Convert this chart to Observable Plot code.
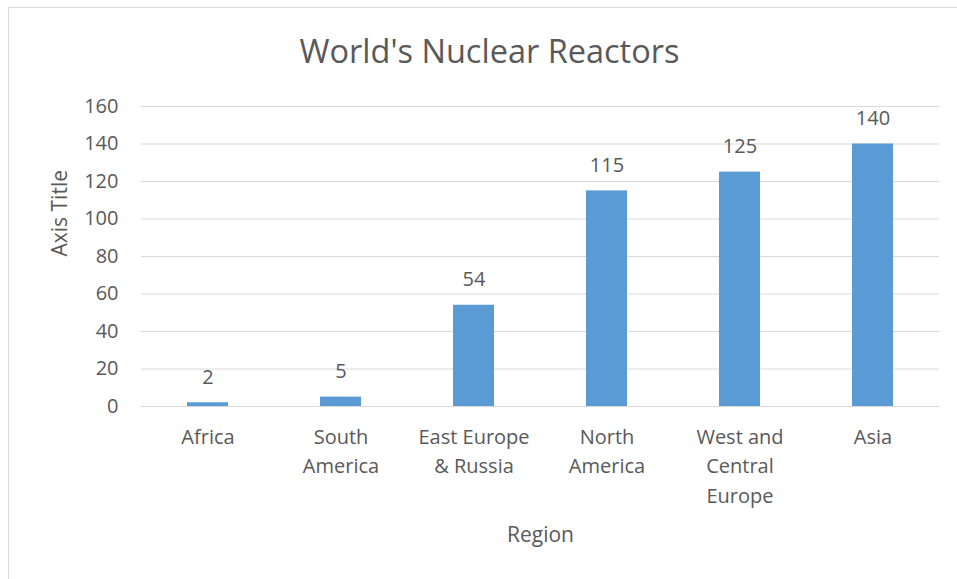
<!DOCTYPE html>
<html>
<head>
<meta charset="utf-8">
<script src="https://cdn.jsdelivr.net/npm/d3@7"></script>
<script src="https://cdn.jsdelivr.net/npm/@observablehq/plot@0.6"></script>
<style>
  body { margin: 0; background: #fff; font-family: "Open Sans", sans-serif; }
  #frame { position: absolute; left: 8px; top: 7px; width: 970px; height: 600px; border: 1px solid #d9d9d9; box-sizing: border-box; }
  #chart { position: absolute; left: 0; top: 0; }
</style>
</head>
<body>
<div id="frame"></div>
<div id="chart"></div>
<script>
const categories = ["Africa", "South America", "East Europe & Russia", "North America", "West and Central Europe", "Asia"];
const tickLabels = ["Africa", "South\nAmerica", "East Europe\n& Russia", "North\nAmerica", "West and\nCentral\nEurope", "Asia"];
const reactors = [2, 5, 54, 115, 125, 140];
const yTicks = [0, 20, 40, 60, 80, 100, 120, 140, 160];
const titleText = "World's Nuclear Reactors";
const xTitle = "Region";
const yTitle = "Axis Title";

const data = categories.map((c, i) => ({region: c, value: reactors[i]}));
const labelOf = new Map(categories.map((c, i) => [c, tickLabels[i]]));
const textColor = "#595959";

const chart = Plot.plot({
  width: 957,
  height: 579,
  marginLeft: 141,
  marginRight: 18,
  marginTop: 106,
  marginBottom: 173,
  style: {fontFamily: "'Open Sans', sans-serif", color: textColor, background: "transparent", overflow: "visible"},
  x: {domain: categories, paddingInner: 0.69, paddingOuter: 0.345},
  y: {domain: [0, 160]},
  marks: [
    Plot.gridY(yTicks, {stroke: "#d9d9d9", strokeOpacity: 1, strokeWidth: 1}),
    Plot.barY(data, {x: "region", y: "value", fill: "#5B9BD5"}),
    Plot.text(data, {x: "region", y: "value", text: d => String(d.value), lineAnchor: "bottom", dy: -19, fontSize: 20, fill: textColor}),
    Plot.axisY(yTicks, {tickSize: 0, tickPadding: 23, fontSize: 20, label: null, fill: textColor}),
    Plot.axisX({tickSize: 0, tickPadding: 16, fontSize: 20, lineHeight: 1.48, label: null, fill: textColor, tickFormat: d => labelOf.get(d)}),
    Plot.text([titleText], {frameAnchor: "top", dx: -51, dy: -54, lineAnchor: "middle", fontSize: 32.5, fill: textColor, text: d => d}),
    Plot.text([xTitle], {frameAnchor: "bottom", dy: 129, lineAnchor: "middle", fontSize: 21, fill: textColor, text: d => d}),
    Plot.text([yTitle], {frameAnchor: "left", dx: -81, rotate: -90, lineAnchor: "middle", fontSize: 21, fill: textColor, text: d => d})
  ]
});
document.getElementById("chart").appendChild(chart);
</script>
</body>
</html>
